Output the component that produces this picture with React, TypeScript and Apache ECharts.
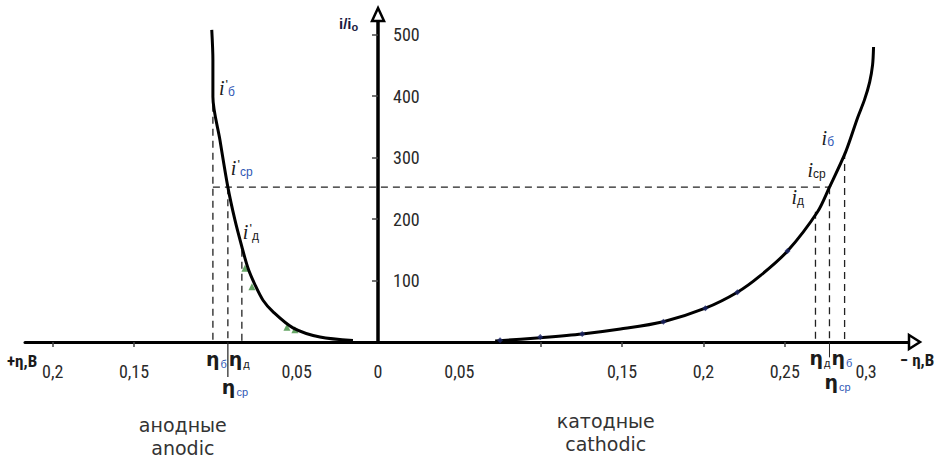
import React, { useEffect, useRef } from "react";
import * as echarts from "echarts";

// ---- axis ticks / labels ----
const xLabelValues = [-0.2, -0.15, -0.05, 0, 0.05, 0.15, 0.2, 0.25, 0.3];
const xTickValues = [-0.2, -0.15, 0.1, 0.15, 0.2, 0.25];
const yLabelValues = [100, 200, 300, 400, 500];

// ---- anodic branch (left, anodic η drawn toward negative x) ----
const anodicEta = [-0.1022, -0.1015, -0.1015, -0.0972, -0.0923, -0.088, -0.0837, -0.0799, -0.0756, -0.0707, -0.0645, -0.0523, -0.0357, -0.0154];
const anodicI = [508, 459, 399, 329, 252, 199, 155, 120, 93, 68, 49, 23, 8, 2.5];
const anodicPtEta = [-0.0818, -0.0775, -0.056, -0.0511];
const anodicPtI = [120, 90, 24, 20];

// ---- cathodic branch (right) ----
const cathodicEta = [0.072, 0.0997, 0.1255, 0.149, 0.1754, 0.2012, 0.2209, 0.235, 0.2517, 0.2702, 0.2775, 0.2874, 0.2948, 0.299, 0.3022, 0.304, 0.3046];
const cathodicI = [1.6, 7, 13, 21, 33, 55, 81, 108, 148, 212, 252, 309, 365, 394, 423, 451, 480];
const cathodicPtEta = [0.075, 0.0997, 0.1255, 0.1754, 0.2012, 0.2209, 0.2517];
const cathodicPtI = [3, 8, 13, 33, 55, 81, 148];

// ---- characteristic points: б, ср, д ----
const anodicMarkEta = [-0.1015, -0.0923, -0.0837];
const anodicMarkI = [399, 252, 155];
const cathodicMarkEta = [0.2868, 0.2775, 0.2689];
const cathodicMarkI = [309, 252, 212];
const iMean = 252;

const X_MIN = -0.217;
const X_MAX = 0.327;
const Y_MAX = 524;

const BLUE = "#2f58b5";
const DARK = "#1b1b1b";
const NARROW = "'Liberation Sans Narrow', 'Roboto Condensed', 'DejaVu Sans Condensed', 'Liberation Sans', sans-serif";

const fmt = (v: number) => String(Math.abs(v)).replace(".", ",");
const zip = (a: number[], b: number[]) => a.map((v, i) => [v, b[i]]);

function guide(points: number[][], dashed: boolean, width = 1.3) {
  return {
    type: "line",
    data: points,
    symbol: "none",
    silent: true,
    clip: false,
    z: 1,
    lineStyle: { color: "#222", width, type: dashed ? [7, 5] : "solid" },
  };
}

function etaText(sub: string, subColor: string) {
  return {
    text: `{m|η}{s|${sub}}`,
    rich: {
      m: { fontSize: 19, fontFamily: "DejaVu Sans", fontWeight: "bold", fill: DARK, lineHeight: 20, verticalAlign: "top" },
      s: { fontSize: 11, fontFamily: "Liberation Sans", fill: subColor, lineHeight: 12, padding: [12, 0, 0, 1], verticalAlign: "bottom" },
    },
  };
}

function iText(sub: string, subColor: string, prime: boolean) {
  return {
    text: prime ? `{i|i}{p|'}{s|${sub}}` : `{i|i}{s|${sub}}`,
    rich: {
      i: { fontSize: 20, fontFamily: "Liberation Serif", fontStyle: "italic", fill: DARK, lineHeight: 20, verticalAlign: "top" },
      p: { fontSize: 13, fontFamily: "Liberation Sans", fill: DARK, lineHeight: 12, verticalAlign: "top", padding: [0, 0, 0, 1] },
      s: { fontSize: 12, fontFamily: "Liberation Sans", fill: subColor, lineHeight: 12, padding: [11, 0, 0, 0], verticalAlign: "bottom" },
    },
  };
}

const captionStyle = (text: string) => ({
  text,
  fontSize: 19,
  lineHeight: 21,
  fontFamily: "'DejaVu Sans', sans-serif",
  fill: "#333",
  align: "center",
  verticalAlign: "middle",
});

export default function App() {
  const ref = useRef<HTMLDivElement>(null);

  useEffect(() => {
    if (!ref.current) return;
    const chart = echarts.init(ref.current, null, { renderer: "svg" });

    const option: any = {
      animation: false,
      backgroundColor: "#ffffff",
      grid: { left: 25, right: 29, top: 20, bottom: 117, containLabel: false },
      xAxis: {
        type: "value",
        min: X_MIN,
        max: X_MAX,
        axisLine: { show: true, onZero: true, lineStyle: { color: "#000", width: 3 } },
        axisTick: { show: true, customValues: xTickValues, length: 5, lineStyle: { color: "#444", width: 1.5 } },
        axisLabel: {
          show: true,
          customValues: xLabelValues,
          formatter: (v: number) => fmt(v),
          margin: 20,
          fontSize: 18,
          fontFamily: NARROW,
          color: "#2a2a2a",
        },
        splitLine: { show: false },
      },
      yAxis: {
        type: "value",
        min: 0,
        max: Y_MAX,
        axisLine: { show: true, onZero: true, lineStyle: { color: "#000", width: 3.5 } },
        axisTick: { show: true, customValues: yLabelValues, length: 6, lineStyle: { color: "#444", width: 1.5 } },
        axisLabel: { show: false },
        splitLine: { show: false },
      },
      series: [
        // guides
        guide([[anodicMarkEta[0], iMean], [cathodicMarkEta[1], iMean]], true),
        guide([[anodicMarkEta[0], anodicMarkI[0] - 13], [anodicMarkEta[0], 0]], true),
        guide([[anodicMarkEta[1], anodicMarkI[1]], [anodicMarkEta[1], 0]], true),
        guide([[anodicMarkEta[1], 0], [anodicMarkEta[1], -57]], false, 1.2),
        guide([[anodicMarkEta[2], anodicMarkI[2] - 5], [anodicMarkEta[2], 0]], true),
        guide([[cathodicMarkEta[0], cathodicMarkI[0]], [cathodicMarkEta[0], 0]], true),
        guide([[cathodicMarkEta[1], cathodicMarkI[1]], [cathodicMarkEta[1], 0]], true),
        guide([[cathodicMarkEta[1], 0], [cathodicMarkEta[1], -25]], false, 1),
        guide([[cathodicMarkEta[2], cathodicMarkI[2]], [cathodicMarkEta[2], 0]], true),
        // curves
        {
          type: "line",
          data: zip(anodicEta, anodicI),
          smooth: 0.3,
          symbol: "none",
          clip: false,
          z: 3,
          lineStyle: { color: "#000", width: 3 },
        },
        {
          type: "line",
          data: zip(cathodicEta, cathodicI),
          smooth: 0.3,
          symbol: "none",
          clip: false,
          z: 3,
          lineStyle: { color: "#000", width: 3 },
        },
        {
          type: "scatter",
          data: zip(anodicPtEta, anodicPtI),
          symbol: "triangle",
          symbolSize: 7,
          z: 2,
          itemStyle: { color: "#3e8f3e" },
        },
        {
          type: "scatter",
          data: zip(cathodicPtEta, cathodicPtI),
          symbol: "diamond",
          symbolSize: 6,
          z: 4,
          itemStyle: { color: "#1c2668" },
        },
      ],
    };

    chart.setOption(option);

    const px = (x: number, y: number) => chart.convertToPixel({ gridIndex: 0 }, [x, y]) as number[];
    const at = (x: number, y: number, dx: number, dy: number) => {
      const p = px(x, y);
      return { x: p[0] + dx, y: p[1] + dy };
    };

    const xEnd = px(X_MAX, 0);
    const yEnd = px(0, Y_MAX);
    const origin = px(0, 0);

    const yLabels = yLabelValues.map((v) => ({
      type: "text",
      z: 100,
      ...at(0, v, 15, 0),
      style: { text: String(v), fontSize: 18, fontFamily: NARROW, fill: "#2a2a2a", align: "left", verticalAlign: "middle" },
    }));

    const graphic: any[] = [
      ...yLabels,
      {
        type: "polygon",
        z: 100,
        shape: { points: [[xEnd[0] - 1, xEnd[1] - 7], [xEnd[0] + 10, xEnd[1]], [xEnd[0] - 1, xEnd[1] + 7]] },
        style: { fill: "#fff", stroke: "#000", lineWidth: 2.5 },
      },
      {
        type: "polygon",
        z: 100,
        shape: { points: [[yEnd[0] - 6, yEnd[1] + 1], [yEnd[0], yEnd[1] - 12], [yEnd[0] + 6, yEnd[1] + 1]] },
        style: { fill: "#fff", stroke: "#000", lineWidth: 2.5 },
      },
      // axis names
      {
        type: "text",
        z: 100,
        x: yEnd[0] - 39,
        y: yEnd[1] - 4,
        style: {
          text: "{a|i/i}{o|o}",
          rich: {
            a: { fontSize: 15, fontFamily: "Liberation Sans", fontWeight: "bold", fill: "#1a1a40", lineHeight: 16, verticalAlign: "top" },
            o: { fontSize: 11, fontFamily: "Liberation Sans", fontWeight: "bold", fill: "#1a1a40", lineHeight: 12, padding: [5, 0, 0, 0], verticalAlign: "bottom" },
          },
        },
      },
      {
        type: "text",
        z: 100,
        x: 7,
        y: origin[1] + 19,
        style: { text: "+η,В", fontSize: 17, fontFamily: NARROW, fontWeight: "bold", fill: DARK, verticalAlign: "middle" },
      },
      {
        type: "text",
        z: 100,
        x: 900,
        y: origin[1] + 18,
        style: { text: "− η,В", fontSize: 17, fontFamily: NARROW, fontWeight: "bold", fill: DARK, verticalAlign: "middle" },
      },
      // η labels under axis, anodic
      { type: "text", z: 100, ...at(anodicMarkEta[0], 0, -7, 7), style: etaText("б", BLUE) },
      { type: "text", z: 100, ...at(anodicMarkEta[2], 0, -13, 7), style: etaText("д", DARK) },
      { type: "text", z: 100, ...at(anodicMarkEta[1], 0, -6, 35), style: etaText("ср", BLUE) },
      // η labels under axis, cathodic
      { type: "text", z: 100, ...at(cathodicMarkEta[2], 0, -6, 6), style: etaText("д", DARK) },
      { type: "text", z: 100, ...at(cathodicMarkEta[0], 0, -13, 6), style: etaText("б", BLUE) },
      { type: "text", z: 100, ...at(cathodicMarkEta[1], 0, -5, 30), style: etaText("ср", BLUE) },
      // i labels, anodic
      { type: "text", z: 100, ...at(anodicMarkEta[0], anodicMarkI[0], 6, -19), style: iText("б", BLUE, true) },
      { type: "text", z: 100, ...at(anodicMarkEta[1], anodicMarkI[1], 3, -29), style: iText("ср", BLUE, true) },
      { type: "text", z: 100, ...at(anodicMarkEta[2], anodicMarkI[2], 1, -25), style: iText("д", DARK, true) },
      // i labels, cathodic
      { type: "text", z: 100, ...at(cathodicMarkEta[0], cathodicMarkI[0], -23, -24), style: iText("б", BLUE, false) },
      { type: "text", z: 100, ...at(cathodicMarkEta[1], cathodicMarkI[1], -22, -27), style: iText("ср", DARK, false) },
      { type: "text", z: 100, ...at(cathodicMarkEta[2], cathodicMarkI[2], -24, -25), style: iText("д", DARK, false) },
      // region captions
      { type: "text", z: 100, ...at(-0.12, 0, 0, 83), style: captionStyle("анодные") },
      { type: "text", z: 100, ...at(-0.12, 0, 0, 106), style: captionStyle("anodic") },
      { type: "text", z: 100, ...at(0.14, 0, 0, 79), style: captionStyle("катодные") },
      { type: "text", z: 100, ...at(0.14, 0, 0, 102), style: captionStyle("cathodic") },
    ];

    chart.setOption({ graphic });

    return () => chart.dispose();
  }, []);

  return (
    <div
      ref={ref}
      style={{ position: "fixed", left: 0, top: 0, width: 939, height: 459, background: "#fff" }}
    />
  );
}
